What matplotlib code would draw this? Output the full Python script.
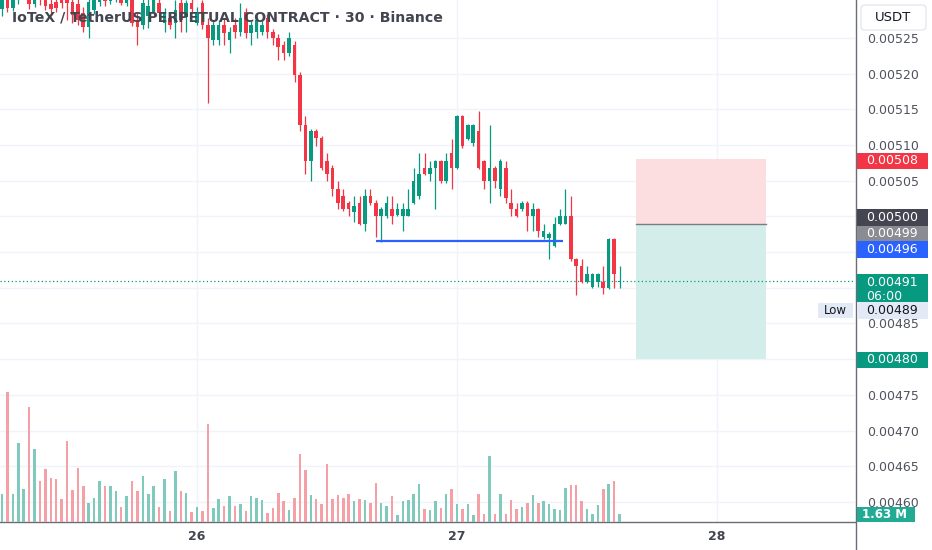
import matplotlib
matplotlib.use("Agg")
import matplotlib.pyplot as plt
import matplotlib.dates as mdates
from matplotlib.patches import Rectangle, FancyBboxPatch
from matplotlib.transforms import IdentityTransform
from matplotlib.lines import Line2D
from matplotlib.ticker import FixedLocator, FixedFormatter
import numpy as np
import pandas as pd

# ---------------- data ----------------
START = "2023-06-25 06:00"
title = "IoTeX / TetherUS PERPETUAL CONTRACT · 30 · Binance"

open_ = [0.005290, 0.005320, 0.005292, 0.005305, 0.005315, 0.005330, 0.005298, 0.005318, 0.005305, 0.005298,
         0.005300, 0.005305, 0.005308, 0.005300, 0.005298, 0.005285, 0.005265, 0.005289, 0.005300, 0.005310,
         0.005302, 0.005305, 0.005310, 0.005299, 0.005305, 0.005275, 0.005268, 0.005280, 0.005286, 0.005299,
         0.005271, 0.005278, 0.005271, 0.005299, 0.005279, 0.005299, 0.005271, 0.005299, 0.005268, 0.005247,
         0.005247, 0.005268, 0.005247, 0.005268, 0.005258, 0.005286, 0.005257, 0.005258, 0.005258, 0.005278,
         0.005258, 0.005250, 0.005240, 0.005229, 0.005240, 0.005198, 0.005128, 0.005078, 0.005119, 0.005110,
         0.005078, 0.005068, 0.005039, 0.005028, 0.005019, 0.005006, 0.005019, 0.004990, 0.005028, 0.005019,
         0.005000, 0.005000, 0.005010, 0.005002, 0.005000, 0.005001, 0.005019, 0.005028, 0.005068, 0.005060,
         0.005068, 0.005078, 0.005049, 0.005089, 0.005068, 0.005140, 0.005109, 0.005103, 0.005119, 0.005078,
         0.005049, 0.005068, 0.005038, 0.005068, 0.005019, 0.005010, 0.005010, 0.005019, 0.005000, 0.005010,
         0.004971, 0.004970, 0.004959, 0.004990, 0.004990, 0.005000, 0.004940, 0.004930, 0.004908, 0.004901,
         0.004908, 0.004908, 0.004899, 0.004969, 0.004908]
close = [0.005310, 0.005292, 0.005305, 0.005320, 0.005325, 0.005298, 0.005318, 0.005305, 0.005295, 0.005290,
         0.005292, 0.005299, 0.005299, 0.005282, 0.005275, 0.005265, 0.005300, 0.005308, 0.005310, 0.005302,
         0.005312, 0.005313, 0.005299, 0.005310, 0.005271, 0.005265, 0.005299, 0.005295, 0.005303, 0.005285,
         0.005285, 0.005268, 0.005289, 0.005275, 0.005299, 0.005290, 0.005286, 0.005268, 0.005250, 0.005268,
         0.005268, 0.005257, 0.005258, 0.005258, 0.005278, 0.005257, 0.005268, 0.005275, 0.005268, 0.005258,
         0.005250, 0.005237, 0.005229, 0.005250, 0.005198, 0.005128, 0.005078, 0.005119, 0.005110, 0.005068,
         0.005059, 0.005039, 0.005019, 0.005010, 0.005010, 0.005014, 0.004990, 0.005028, 0.005019, 0.005000,
         0.005010, 0.005019, 0.005000, 0.005010, 0.005010, 0.005010, 0.005049, 0.005060, 0.005060, 0.005068,
         0.005078, 0.005049, 0.005078, 0.005068, 0.005140, 0.005098, 0.005128, 0.005128, 0.005068, 0.005049,
         0.005068, 0.005049, 0.005078, 0.005026, 0.005010, 0.005000, 0.005019, 0.005000, 0.005010, 0.004979,
         0.004979, 0.004975, 0.004990, 0.005000, 0.005000, 0.004940, 0.004930, 0.004908, 0.004919, 0.004919,
         0.004919, 0.004899, 0.004969, 0.004919, 0.004910]
high = [0.005320, 0.005330, 0.005315, 0.005330, 0.005335, 0.005340, 0.005325, 0.005323, 0.005312, 0.005308,
        0.005310, 0.005314, 0.005315, 0.005308, 0.005305, 0.005293, 0.005310, 0.005315, 0.005318, 0.005316,
        0.005320, 0.005320, 0.005316, 0.005315, 0.005312, 0.005285, 0.005305, 0.005305, 0.005310, 0.005306,
        0.005292, 0.005285, 0.005303, 0.005305, 0.005303, 0.005305, 0.005293, 0.005303, 0.005278, 0.005273,
        0.005275, 0.005278, 0.005265, 0.005278, 0.005299, 0.005292, 0.005273, 0.005280, 0.005275, 0.005283,
        0.005263, 0.005255, 0.005245, 0.005258, 0.005245, 0.005202, 0.005140, 0.005122, 0.005122, 0.005113,
        0.005089, 0.005072, 0.005049, 0.005039, 0.005022, 0.005028, 0.005028, 0.005039, 0.005039, 0.005023,
        0.005013, 0.005028, 0.005028, 0.005019, 0.005019, 0.005039, 0.005068, 0.005089, 0.005089, 0.005078,
        0.005079, 0.005079, 0.005089, 0.005109, 0.005142, 0.005142, 0.005130, 0.005130, 0.005148, 0.005079,
        0.005128, 0.005070, 0.005080, 0.005078, 0.005038, 0.005019, 0.005021, 0.005021, 0.005019, 0.005012,
        0.004990, 0.004978, 0.004999, 0.005010, 0.005039, 0.005029, 0.004942, 0.004940, 0.004930, 0.004920,
        0.004920, 0.004930, 0.004970, 0.004970, 0.004930]
low = [0.005280, 0.005286, 0.005288, 0.005298, 0.005308, 0.005290, 0.005293, 0.005296, 0.005289, 0.005284,
       0.005286, 0.005292, 0.005275, 0.005271, 0.005268, 0.005258, 0.005250, 0.005283, 0.005294, 0.005295,
       0.005298, 0.005300, 0.005296, 0.005295, 0.005266, 0.005240, 0.005263, 0.005264, 0.005280, 0.005280,
       0.005258, 0.005263, 0.005250, 0.005258, 0.005258, 0.005285, 0.005268, 0.005263, 0.005159, 0.005240,
       0.005240, 0.005240, 0.005229, 0.005250, 0.005253, 0.005250, 0.005240, 0.005250, 0.005254, 0.005250,
       0.005240, 0.005219, 0.005219, 0.005225, 0.005188, 0.005120, 0.005060, 0.005050, 0.005098, 0.005065,
       0.005050, 0.005029, 0.005010, 0.005008, 0.005000, 0.004992, 0.004988, 0.004980, 0.005016, 0.004971,
       0.004964, 0.004998, 0.004990, 0.005000, 0.004980, 0.005000, 0.005017, 0.005025, 0.005058, 0.005049,
       0.005010, 0.005047, 0.005047, 0.005039, 0.005066, 0.005096, 0.005107, 0.005098, 0.005066, 0.005039,
       0.005019, 0.005040, 0.005029, 0.005019, 0.005000, 0.004999, 0.005008, 0.004979, 0.004979, 0.004971,
       0.004969, 0.004941, 0.004957, 0.004988, 0.004989, 0.004938, 0.004890, 0.004906, 0.004906, 0.004900,
       0.004901, 0.004891, 0.004898, 0.004899, 0.004899]
volume_m = [5.71, 26.5, 5.71, 16.1, 6.73, 23.5, 14.9, 8.36, 10.8, 8.98,
            8.77, 4.69, 16.5, 6.53, 11.0, 7.34, 3.88, 4.90, 8.36, 7.34,
            7.34, 6.32, 3.06, 5.30, 8.36, 6.32, 9.38, 5.71, 7.34, 3.06,
            8.77, 2.24, 10.4, 6.32, 5.92, 2.04, 3.06, 2.24, 20.0, 2.86,
            4.69, 3.26, 5.30, 3.26, 3.67, 2.24, 5.30, 4.90, 4.49, 1.84,
            2.86, 5.92, 4.28, 2.45, 4.90, 13.9, 10.6, 5.51, 4.69, 3.67,
            11.8, 4.69, 5.51, 4.90, 5.71, 4.28, 4.69, 4.49, 3.88, 7.96,
            3.88, 3.26, 5.30, 1.43, 4.28, 4.49, 5.71, 7.75, 2.65, 2.45,
            4.28, 2.86, 5.71, 6.73, 3.67, 2.65, 3.67, 1.43, 5.71, 1.63,
            13.5, 1.63, 5.71, 1.63, 4.49, 2.65, 3.06, 3.88, 5.51, 3.88,
            4.28, 3.67, 2.65, 2.45, 6.94, 7.55, 7.55, 4.28, 2.65, 1.63,
            3.47, 6.73, 7.75, 8.36, 1.63]

last_price = 0.00491
last_label = "0.00491"
countdown = "06:00"
low_price = 0.00489
pos_start, pos_end = "2023-06-27 16:30", "2023-06-28 04:30"
pos_entry, pos_stop, pos_target = 0.00499, 0.00508, 0.00480
level_start, level_end, level_price = "2023-06-26 16:30", "2023-06-27 09:45", 0.004965
price_levels = [0.00460, 0.00465, 0.00470, 0.00475, 0.00480, 0.00485, 0.00490,
                0.00495, 0.00500, 0.00505, 0.00510, 0.00515, 0.00520, 0.00525]
hidden_levels = [0.00480, 0.00490, 0.00495, 0.00500]
vol_label = "1.63 M"

# ---------------- style ----------------
RED = "#F23645"
GREEN = "#089981"
RED_V = "#F5A0A6"
GREEN_V = "#7FCABD"
GRID = "#F0F3FA"
AXIS = "#6A6D78"

W, H = 932, 550
fig = plt.figure(figsize=(W / 100, H / 100), dpi=100)
fig.patch.set_facecolor("white")
rect = [0, 28 / H, 855 / W, 522 / H]
ax = fig.add_axes(rect)

times = pd.date_range(START, periods=len(open_), freq="30min")
x = mdates.date2num(times.to_pydatetime())
step = 1 / 48
xlim = (x[0] - 0.37 * step, x[0] + 157.47 * step)
ax.set_xlim(*xlim)
ax.set_ylim(0.004572, 0.005303)

o, h, l, c = map(np.array, (open_, high, low, close))
up = c >= o
cols = np.where(up, GREEN, RED)
px = (0.005303 - 0.004572) / 522
ax.vlines(x, l, h, colors=cols, lw=0.9, zorder=3)
body_b = np.minimum(o, c)
body_h = np.maximum(np.abs(c - o), 1.2 * px)
ax.bar(x, body_h, bottom=body_b, width=0.66 * step, color=cols, lw=0, zorder=4)

# position tool
ps, pe = mdates.date2num(pd.Timestamp(pos_start)), mdates.date2num(pd.Timestamp(pos_end))
ax.add_patch(Rectangle((ps, pos_entry), pe - ps, pos_stop - pos_entry, fc="#FCDDE0", ec="none", zorder=2))
ax.add_patch(Rectangle((ps, pos_target), pe - ps, pos_entry - pos_target, fc="#D3EEEA", ec="none", zorder=2))
ax.plot([ps, pe], [pos_entry, pos_entry], color="#787B86", lw=1, zorder=3)

# horizontal level
ls_, le_ = mdates.date2num(pd.Timestamp(level_start)), mdates.date2num(pd.Timestamp(level_end))
ax.plot([ls_, le_], [level_price, level_price], color="#2962FF", lw=1.6, zorder=5, solid_capstyle="butt")

# last price dotted
ax.axhline(last_price, color=GREEN, lw=0.9, ls=(0, (1, 2)), zorder=2)

# axes styling
ax.yaxis.tick_right()
ax.yaxis.set_major_locator(FixedLocator(price_levels))
ax.yaxis.set_major_formatter(FixedFormatter(
    ["" if any(abs(v - hv) < 1e-9 for hv in hidden_levels) else f"{v:.5f}" for v in price_levels]))
ax.tick_params(axis="y", length=0, pad=8.5, labelsize=9, labelcolor="#50535E")
ax.xaxis.set_major_locator(mdates.DayLocator())
ax.xaxis.set_major_formatter(mdates.DateFormatter("%d"))
ax.tick_params(axis="x", length=0, pad=6, labelsize=9, labelcolor="#434651")
for lbl in ax.get_xticklabels():
    lbl.set_fontweight("bold")
ax.grid(True, color=GRID, lw=1)
ax.set_axisbelow(True)
for s in ("top", "left", "right"):
    ax.spines[s].set_visible(False)
ax.spines["bottom"].set_color(AXIS)
ax.spines["bottom"].set_linewidth(1)
fig.add_artist(Line2D([855.5, 855.5], [0, H], transform=IdentityTransform(), color=AXIS, lw=1))

# volume overlay
axv = fig.add_axes(rect)
axv.set_xlim(*xlim)
axv.set_ylim(0, 106.5)
axv.axis("off")
axv.patch.set_visible(False)
axv.bar(x, volume_m, width=0.46 * step, color=np.where(up, GREEN_V, RED_V), lw=0)

# right-axis labels
ID = IdentityTransform()


def ydisp(axis, val):
    return axis.transData.transform((xlim[0], val))[1]


def box(yc, text, fc, tc, h=16.5, x0=856.5, w=71, tx=866.5, fs=9):
    fig.add_artist(Rectangle((x0, yc - h / 2), w, h, transform=ID, fc=fc, ec="none", zorder=10))
    fig.add_artist(plt.Text(tx, yc, text, transform=ID, color=tc, fontsize=fs,
                            ha="left", va="center", zorder=11))


box(ydisp(ax, pos_stop) - 1.7, f"{pos_stop:.5f}", RED, "white")
box(ydisp(ax, pos_entry) - 9.9, f"{pos_entry:.5f}", "#8A8C93", "white")
box(ydisp(ax, 0.00500) - 1, "0.00500", "#434651", "white")
box(ydisp(ax, 0.00496) - 4.5, "0.00496", "#2962FF", "white")
yl = ydisp(ax, last_price)
fig.add_artist(Rectangle((856.5, yl - 22), 71, 29, transform=ID, fc=GREEN, ec="none", zorder=10))
fig.add_artist(plt.Text(866.5, yl - 2.3, last_label, transform=ID, color="white", fontsize=9,
                        ha="left", va="center", zorder=11))
fig.add_artist(plt.Text(866.5, yl - 15.5, countdown, transform=ID, color="white", fontsize=9,
                        ha="left", va="center", zorder=11))
ylo = ydisp(ax, low_price) - 15.5
box(ylo, f"{low_price:.5f}", "#E3EAF5", "#131722")
fig.add_artist(Rectangle((818, ylo - 7.5), 35, 15, transform=ID, fc="#E3EAF5", ec="none", zorder=10))
fig.add_artist(plt.Text(835.5, ylo, "Low", transform=ID, color="#131722", fontsize=8.5,
                        ha="center", va="center", zorder=11))
box(ydisp(ax, pos_target) - 0.8, f"{pos_target:.5f}", GREEN, "white")
yv = ydisp(axv, volume_m[-1])
fig.add_artist(Rectangle((856.5, yv - 7.5), 58.5, 15, transform=ID, fc="#22AB94", ec="none", zorder=10))
fig.add_artist(plt.Text(862, yv, vol_label, transform=ID, color="white", fontsize=8.5,
                        fontweight="bold", ha="left", va="center", zorder=11))

# USDT button
fig.add_artist(FancyBboxPatch((861, H - 30), 65, 25, boxstyle="round,pad=0,rounding_size=4",
                              transform=ID, fc="white", ec="#E0E3EB", lw=0.8, zorder=10))
fig.add_artist(plt.Text(893.5, H - 17.5, "USDT", transform=ID, color="#131722", fontsize=9.5,
                        ha="center", va="center", zorder=11))

# title (fit to measured width)
t = fig.text(12, H - 17.5, title, transform=ID, color="#434651", fontsize=10,
             fontweight="bold", ha="left", va="center", zorder=12)
r = fig.canvas.get_renderer()
wt = t.get_window_extent(r).width
t.set_fontsize(10 * 432 / wt)

fig.savefig("out.png", dpi=100)
